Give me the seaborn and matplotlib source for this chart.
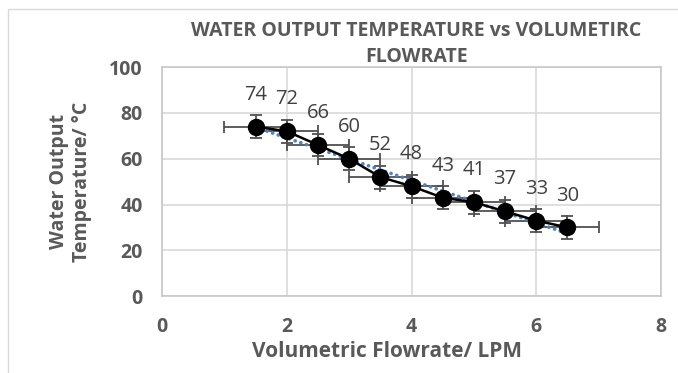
import matplotlib
matplotlib.use("Agg")
import matplotlib.pyplot as plt
import seaborn as sns
import pandas as pd

flow = [1.5, 2.0, 2.5, 3.0, 3.5, 4.0, 4.5, 5.0, 5.5, 6.0, 6.5]
temp = [74, 72, 66, 60, 52, 48, 43, 41, 37, 33, 30]
x_err = 0.5
y_err = 5
x_ticks = [0, 2, 4, 6, 8]
y_ticks = [0, 20, 40, 60, 80, 100]

df = pd.DataFrame({"flow": flow, "temp": temp})

sns.set_theme(style="whitegrid")
plt.rcParams['font.family'] = ['Open Sans', 'DejaVu Sans']
gray = "#595959"

fig = plt.figure(figsize=(6.78, 3.73), dpi=100)
ax = fig.add_axes([0.239, 0.206, 0.736, 0.614])

ax.errorbar(df["flow"], df["temp"], xerr=x_err, yerr=y_err, fmt="none",
            ecolor="#505050", elinewidth=1.3, capsize=4, capthick=1.3, zorder=2)
sns.regplot(data=df, x="flow", y="temp", scatter=False, ci=None, ax=ax,
            line_kws=dict(color="#4f81c7", linestyle=(0, (0.05, 1.6)), linewidth=2.6,
                          dash_capstyle="round", zorder=3))
sns.lineplot(data=df, x="flow", y="temp", ax=ax, color="black", linewidth=1.8,
             marker="o", markersize=11, markeredgecolor="black", markeredgewidth=1.5, zorder=4)

for xv, yv in zip(flow, temp):
    ax.annotate(str(yv), (xv, yv), xytext=(0, 23), textcoords="offset points",
                ha="center", va="center", fontsize=14.5, color="#404040")

ax.set_xlim(0, 8)
ax.set_ylim(0, 100)
ax.set_xticks(x_ticks, labels=[str(t) for t in x_ticks], fontweight="bold")
ax.set_yticks(y_ticks, labels=[str(t) for t in y_ticks], fontweight="bold")
ax.grid(True, color="#d9d9d9", linewidth=1.2)
for s in ax.spines.values():
    s.set_visible(True)
    s.set_color("#c8c8c8")
    s.set_linewidth(1.2)
ax.tick_params(axis="x", length=0, labelsize=14, labelcolor=gray, pad=15)
ax.tick_params(axis="y", length=0, labelsize=14, labelcolor=gray, pad=14)
ax.set_xlabel("Volumetric Flowrate/ LPM", fontsize=15, fontweight="bold", color=gray, labelpad=4)
ax.xaxis.set_label_coords(0.45, -0.195)
ax.xaxis.label.set_va("top")
ax.set_ylabel("Water Output\nTemperature/ °C", fontsize=14, fontweight="bold", color=gray, labelpad=12)
fig.text(0.614, 0.945, "WATER OUTPUT TEMPERATURE vs VOLUMETIRC\nFLOWRATE", ha="center", va="top",
         fontsize=14, fontweight="bold", color=gray, linespacing=1.4)

fig.patches.append(plt.Rectangle((0.012, -0.1), 1.2, 1.076, transform=fig.transFigure,
                                 fill=False, edgecolor="#d9d9d9", linewidth=1))

fig.savefig("out.png", dpi=100)
